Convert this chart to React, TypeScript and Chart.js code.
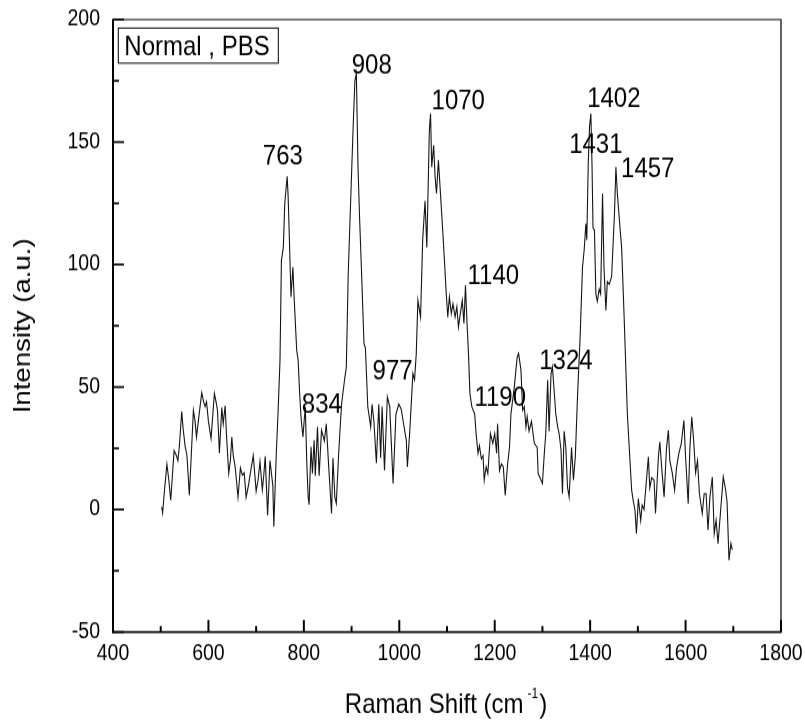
import React, { useEffect, useRef } from 'react';
import { Chart, registerables } from 'chart.js';

Chart.register(...registerables);

// ---------- data ----------
const ramanShift: number[] = [
  502, 504, 508, 513, 517, 521, 528, 533, 536, 539, 544, 547, 551, 555, 560, 564, 568.5, 572, 575, 580,
  586, 590, 593, 596, 600, 605.5, 612.5, 616, 619, 623, 628, 631, 635, 638, 642.5, 646, 649, 652, 656, 662,
  667, 671, 675, 679, 684, 688, 694, 700, 704, 708, 713, 716, 719, 724, 729, 735, 737, 742, 746, 750,
  753, 757, 760, 765, 767, 769, 773, 777, 780, 785, 788, 791, 794, 798, 803, 806, 809, 811, 815, 818,
  821.5, 824, 828.6, 832, 837, 843, 847, 852, 858, 861, 865, 868, 873, 879, 886, 889, 893, 900, 904, 907,
  910, 913.5, 917, 921, 926, 929, 934, 940, 943, 947, 952, 957, 961, 964, 969, 975, 980, 987, 993, 999,
  1004, 1009, 1014.7, 1017, 1022, 1028.5, 1032, 1035.6, 1039, 1044.6, 1049, 1054, 1057.7, 1060, 1063, 1065.5, 1068, 1072, 1075, 1078,
  1082, 1086, 1091, 1095, 1098, 1101.6, 1105, 1109, 1112.5, 1117, 1120.6, 1124, 1128, 1132, 1135.5, 1138.7, 1142, 1145, 1148, 1152,
  1158, 1161, 1165, 1168, 1172, 1175.5, 1178, 1182, 1185.6, 1191, 1196, 1200, 1204, 1206, 1210, 1214, 1218, 1222, 1227, 1231,
  1234, 1241, 1247, 1250, 1255, 1258.5, 1262, 1265.5, 1268, 1272, 1277, 1283, 1289, 1291, 1297, 1300, 1304, 1307, 1311, 1314,
  1318, 1321, 1325, 1328, 1332, 1335, 1339, 1342, 1345.5, 1349, 1352.5, 1356, 1361, 1365, 1369, 1373.5, 1379, 1384, 1387.5, 1391,
  1393, 1396, 1398.6, 1401.5, 1404, 1406, 1409, 1412, 1415, 1419, 1422, 1426, 1429, 1433, 1436, 1440, 1445, 1451, 1454, 1457,
  1463, 1466, 1471, 1478, 1482, 1487, 1490, 1494, 1497, 1501, 1506, 1509, 1513, 1518, 1522, 1525, 1529, 1534, 1537, 1543,
  1546, 1550, 1555, 1560, 1564, 1567, 1572, 1577, 1581, 1586, 1591, 1596.5, 1600, 1605.5, 1609, 1613, 1617, 1621, 1625, 1629,
  1635, 1639, 1643, 1647, 1651, 1656, 1660, 1664, 1668, 1673, 1679, 1684, 1687, 1691, 1695, 1698,
];

const intensity: number[] = [
  1, -1.4, 8, 18.5, 12, 3.8, 24, 22, 20, 25.6, 40, 33, 26, 22, 5.8, 22, 40.5, 36, 29.6, 38,
  47.7, 44, 42, 44, 36, 29, 47.4, 44, 40.4, 23, 41.7, 35, 42.4, 30, 14.8, 20, 29.6, 22, 17.5, 5.1,
  17, 14, 15, 5, 10, 15, 22, 7.5, 12, 19.6, 8, 14, 21.7, -2.3, 20, 9.7, -7, 21.7, 40, 61,
  101.7, 107, 125, 136, 128, 115, 86.8, 99, 85, 65, 61, 48, 37.8, 29.6, 41.9, 20, 5.1, 2, 25.6, 14.7,
  28.3, 13.8, 33.7, 13.8, 32.4, 28, 35, 17.8, -1.6, 21, 5, 2.5, 23, 43, 54, 58, 96.4, 137, 160, 175,
  178, 139.8, 118, 96.4, 67.7, 66, 41.9, 33.7, 43, 35.5, 18.9, 43, 21, 42, 16, 46, 42, 10.6, 39, 43,
  41, 35, 28.3, 17.4, 32, 55.5, 53, 63.7, 85.4, 78.6, 110, 126, 107, 127, 154.8, 161.6, 139.8, 148.7, 136, 129,
  142.6, 130, 114, 100.4, 89.5, 78.6, 86.8, 80, 84, 78.6, 82.7, 74.5, 80, 85.4, 76, 91.5, 76, 63.7, 47.3, 42,
  39, 31, 23, 26, 20.7, 22, 12, 17.4, 14.7, 31, 27, 31, 23, 35, 16, 18.6, 17.4, 5.8, 18.6, 25.4,
  39, 50, 62, 63.7, 57, 40.5, 42, 33.7, 38, 32, 36, 27, 25.4, 14.7, 12, 10.6, 23, 31, 52.8, 32,
  55.5, 58.2, 47.3, 39, 33.7, 31, 24.2, 6.5, 32, 25.4, 9.2, 5.1, 25.4, 12, 21.8, 46, 70.5, 99, 106, 116.7,
  110, 141, 156, 161.6, 139.8, 115, 114, 88, 85, 90, 88, 129, 99, 81.3, 93, 92, 95, 120.8, 139.8, 129,
  114, 107, 80, 39, 25, 7.9, 4, -0.3, -9.8, 4.5, -4.4, 1.8, 0, 12, 21.5, 8.8, 13, 12, -1.6, 21.5,
  27.6, 17, 5.1, 25, 32.4, 20, 15, 7.9, 17, 23, 27, 36.4, 21.5, 2.4, 25, 37.8, 28, 15, 20, 6.5,
  -1.6, 6.5, 6.5, -8.4, 5, 13.3, -9.8, -4.4, -13.9, -1.6, 13.3, 8, 3, -20.7, -13.9, -16.5,
];

// peak annotations, anchored in data units (left edge of text, baseline)
const peakLabels: string[] = ['763', '908', '834', '977', '1070', '1140', '1190', '1324', '1402', '1431', '1457'];
const peakLabelShift: number[] = [714, 900.3, 795.8, 944, 1067.6, 1142.9, 1157.5, 1293.2, 1393.7, 1356, 1464.8];
const peakLabelIntensity: number[] = [141, 178.1, 39.3, 53.2, 163.4, 91.9, 42.2, 57.3, 164.2, 145.4, 135.6];

const xMin = 400, xMax = 1800, xMajor = 200, xMinor = 100;
const yMin = -50, yMax = 200, yMajor = 50, yMinor = 25;

const legendText = 'Normal , PBS';
const xTitleMain = 'Raman Shift (cm';
const xTitleSup = '-1';
const xTitleEnd = ')';
const yTitle = 'Intensity (a.u.)';

// ---------- layout ----------
const W = 805;
const H_SCREEN = 721;
const H = 627; // internal height, canvas is stretched vertically to H_SCREEN
const FONT = "'Liberation Sans', Arial, Helvetica, sans-serif";

const decorPlugin = {
  id: 'decor',
  afterDraw(chart: any) {
    const { ctx, chartArea: a } = chart;
    const xs = chart.scales.x;
    const ys = chart.scales.y;
    ctx.save();
    ctx.strokeStyle = '#000';
    ctx.fillStyle = '#000';
    ctx.lineCap = 'butt';

    // top + right frame
    ctx.lineWidth = 1.2;
    ctx.beginPath();
    ctx.moveTo(a.left, a.top);
    ctx.lineTo(a.right, a.top);
    ctx.lineTo(a.right, a.bottom);
    ctx.stroke();

    // left axis
    ctx.lineWidth = 2;
    ctx.beginPath();
    ctx.moveTo(a.left, a.top - 0.6);
    ctx.lineTo(a.left, a.bottom + 0.87);
    ctx.stroke();
    // bottom axis
    ctx.lineWidth = 1.74;
    ctx.beginPath();
    ctx.moveTo(a.left - 1, a.bottom);
    ctx.lineTo(a.right + 0.6, a.bottom);
    ctx.stroke();

    // x ticks (inward)
    ctx.lineWidth = 2;
    for (let v = xMin; v <= xMax; v += xMinor) {
      const major = (v - xMin) % xMajor === 0;
      const px = xs.getPixelForValue(v);
      ctx.beginPath();
      ctx.moveTo(px, a.bottom);
      ctx.lineTo(px, a.bottom - (major ? 10.4 : 5.2));
      ctx.stroke();
    }
    // y ticks (inward)
    ctx.lineWidth = 1.74;
    for (let v = yMin; v <= yMax; v += yMinor) {
      const major = (v - yMin) % yMajor === 0;
      const py = ys.getPixelForValue(v);
      ctx.beginPath();
      ctx.moveTo(a.left, py);
      ctx.lineTo(a.left + (major ? 11 : 6), py);
      ctx.stroke();
    }

    // legend box
    ctx.lineWidth = 1;
    const bx = a.left + 5.3;
    const by = a.top + 7.4;
    ctx.strokeRect(bx, by, 160, 30.5);
    ctx.font = `24px ${FONT}`;
    ctx.textAlign = 'left';
    ctx.textBaseline = 'alphabetic';
    ctx.fillText(legendText, bx + 6, a.top + 30.8);

    // peak labels
    ctx.font = `24px ${FONT}`;
    for (let i = 0; i < peakLabels.length; i++) {
      ctx.fillText(
        peakLabels[i],
        xs.getPixelForValue(peakLabelShift[i]),
        ys.getPixelForValue(peakLabelIntensity[i])
      );
    }

    // x title with superscript
    ctx.font = `24px ${FONT}`;
    const wMain = ctx.measureText(xTitleMain).width;
    const wEnd = ctx.measureText(xTitleEnd).width;
    ctx.font = `12px ${FONT}`;
    const wSup = ctx.measureText(xTitleSup).width;
    const total = wMain + 4 + wSup + 1 + wEnd;
    const cx = (a.left + a.right) / 2 - 1;
    const x0 = cx - total / 2;
    const base = 620;
    ctx.font = `24px ${FONT}`;
    ctx.fillText(xTitleMain, x0, base);
    ctx.font = `12px ${FONT}`;
    ctx.fillText(xTitleSup, x0 + wMain + 4, base - 13);
    ctx.font = `24px ${FONT}`;
    ctx.fillText(xTitleEnd, x0 + wMain + 4 + wSup + 1, base);

    // y title
    ctx.save();
    ctx.translate(23.5, (a.top + a.bottom) / 2);
    ctx.rotate(-Math.PI / 2);
    ctx.textAlign = 'center';
    ctx.textBaseline = 'middle';
    ctx.font = `24px ${FONT}`;
    ctx.fillText(yTitle, 0, 0);
    ctx.restore();

    ctx.restore();
  },
};

const noPad = (s: any) => {
  s.paddingTop = 0;
  s.paddingBottom = 0;
  s.paddingLeft = 0;
  s.paddingRight = 0;
};

export default function App() {
  const ref = useRef<HTMLCanvasElement | null>(null);

  useEffect(() => {
    document.body.style.margin = '0';
    document.body.style.overflow = 'hidden';
    const canvas = ref.current;
    if (!canvas) return;
    const points = ramanShift.map((x, i) => ({ x, y: intensity[i] }));
    const tickFont = { family: FONT, size: 19.5 };
    const chart = new Chart(canvas, {
      type: 'line',
      data: {
        datasets: [
          {
            data: points,
            borderColor: '#161616',
            borderWidth: 1.1,
            pointRadius: 0,
            tension: 0,
            fill: false,
          },
        ],
      },
      options: {
        animation: false,
        responsive: false,
        devicePixelRatio: 1,
        events: [],
        layout: { padding: { left: 0, right: 24, top: 17, bottom: 0 } },
        plugins: {
          legend: { display: false },
          tooltip: { enabled: false },
          title: { display: false },
        },
        scales: {
          x: {
            type: 'linear',
            min: xMin,
            max: xMax,
            afterFit: (s: any) => {
              s.height = H - 549.6;
              noPad(s);
            },
            afterBuildTicks: (s: any) => {
              const t = [];
              for (let v = xMin; v <= xMax; v += xMajor) t.push({ value: v });
              s.ticks = t;
            },
            ticks: {
              font: tickFont,
              color: '#000',
              padding: 7,
              maxRotation: 0,
              autoSkip: false,
              callback: (v: any) => String(v),
            },
            grid: { display: false, drawTicks: false },
            border: { display: false },
          },
          y: {
            type: 'linear',
            min: yMin,
            max: yMax,
            afterFit: (s: any) => {
              s.width = 113;
              noPad(s);
            },
            afterBuildTicks: (s: any) => {
              const t = [];
              for (let v = yMin; v <= yMax; v += yMajor) t.push({ value: v });
              s.ticks = t;
            },
            ticks: {
              font: tickFont,
              color: '#000',
              padding: 13,
              autoSkip: false,
              callback: (v: any) => String(v),
            },
            grid: { display: false, drawTicks: false },
            border: { display: false },
          },
        },
      },
      plugins: [decorPlugin],
    } as any);
    return () => chart.destroy();
  }, []);

  return (
    <canvas
      ref={ref}
      width={W}
      height={H}
      style={{ width: `${W}px`, height: `${H_SCREEN}px`, display: 'block' }}
    />
  );
}
